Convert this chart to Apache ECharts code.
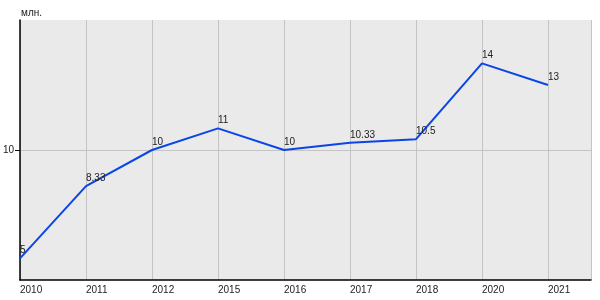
<!DOCTYPE html>
<html><head><meta charset="utf-8">
<script src="https://cdn.jsdelivr.net/npm/echarts@6/dist/echarts.min.js"></script>
<style>html,body{margin:0;padding:0;background:#fff}#c{width:600px;height:300px}</style>
</head><body><div id="c"></div>
<script>
const years = ['2010','2011','2012','2015','2016','2017','2018','2020','2021'];
const values = [5, 8.33, 10, 11, 10, 10.33, 10.5, 14, 13];
const valueLabels = ['5','8.33','10','11','10','10.33','10.5','14','13'];
const yTicks = [10];
const unitName = 'млн.';

const font = '"Liberation Sans", Arial, sans-serif';
const chart = echarts.init(document.getElementById('c'), null, {renderer:'canvas'});
chart.setOption({
  animation: false,
  backgroundColor: '#ffffff',
  grid: {left: 20, top: 20, width: 571, height: 260, show: true, backgroundColor: '#eaeaea', borderWidth: 0,
         containLabel: false, outerBoundsMode: 'none'},
  xAxis: {
    type: 'value', min: 0, max: 571/66, interval: 1,
    axisLine: {show: true, onZero: false, lineStyle: {color: '#000', width: 1.5}},
    axisTick: {show: false},
    axisLabel: {
      fontFamily: font, fontSize: 10, color: '#222', align: 'left', margin: 5,
      showMaxLabel: false,
      formatter: v => (Number.isInteger(v) && years[v] !== undefined) ? years[v] : ''
    },
    splitLine: {show: true, lineStyle: {color: '#c4c4c4', width: 1}}
  },
  yAxis: {
    type: 'value', min: 4, max: 16, interval: 6,
    name: unitName, nameLocation: 'end', nameGap: 2,
    nameTextStyle: {fontFamily: font, fontSize: 10, color: '#222', align: 'left', padding: [0,0,0,1]},
    axisLine: {show: true, lineStyle: {color: '#000', width: 1.5}},
    axisTick: {show: true, length: 5, lineStyle: {color: '#000'}, customValues: yTicks},
    axisLabel: {fontFamily: font, fontSize: 10, color: '#222', margin: 6, customValues: yTicks,
      padding: [0,0,5,0],
      formatter: v => yTicks.includes(v) ? String(v) : ''},
    splitLine: {show: true, lineStyle: {color: '#c4c4c4', width: 1}}
  },
  series: [{
    type: 'line',
    data: values.map((v, i) => [i, v]),
    showSymbol: true,
    symbol: 'circle',
    symbolSize: 2,
    itemStyle: {color: 'rgba(0,0,0,0)', borderWidth: 0},
    lineStyle: {color: '#0a45e6', width: 2},
    label: {
      show: true, position: 'top', align: 'left', distance: 2,
      fontFamily: font, fontSize: 10, color: '#222',
      formatter: p => valueLabels[p.dataIndex]
    },
    labelLayout: {hideOverlap: false},
    emphasis: {disabled: true}
  }]
});
</script></body></html>
